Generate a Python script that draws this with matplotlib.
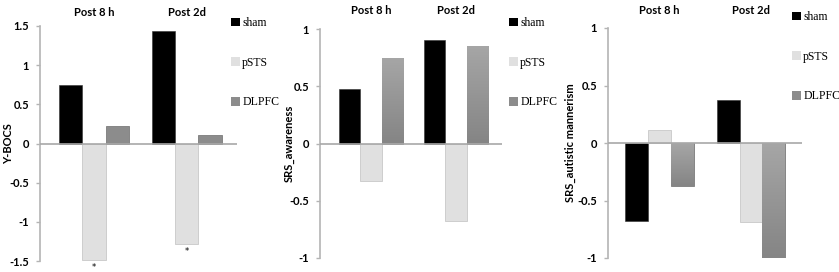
import numpy as np
import matplotlib
matplotlib.use("Agg")
import matplotlib.pyplot as plt
from matplotlib.patches import Patch
from matplotlib.transforms import blended_transform_factory
from matplotlib.colors import LinearSegmentedColormap

# ---------------- data ----------------
timepoints = ["Post 8 h", "Post 2d"]
groups = ["sham", "pSTS", "DLPFC"]

ybocs_sham = [0.75, 1.43]
ybocs_psts = [-1.49, -1.28]
ybocs_dlpfc = [0.22, 0.11]

aware_sham = [0.48, 0.90]
aware_psts = [-0.33, -0.68]
aware_dlpfc = [0.75, 0.85]

mann_sham = [-0.68, 0.37]
mann_psts = [0.11, -0.69]
mann_dlpfc = [-0.37, -1.00]

ylabels = ["Y-BOCS", "SRS_awareness", "SRS_autistic mannerism"]
yticks_p1 = [-1.5, -1, -0.5, 0, 0.5, 1, 1.5]
yticklabels_p1 = ["-1.5", "-1", "-0.5", "0", "0.5", "1", "1.5"]
yticks_p23 = [-1, -0.5, 0, 0.5, 1]
yticklabels_p23 = ["-1", "-0.5", "0", "0.5", "1"]
star_marked = [True, True]  # pSTS bars in Y-BOCS panel

# ---------------- style ----------------
W, H = 839, 272
fig = plt.figure(figsize=(W / 100, H / 100), dpi=100)

SANS = ["Lato", "DejaVu Sans"]
SERIF = ["Liberation Serif", "DejaVu Serif"]
C_SHAM = "#000000"
C_PSTS = "#e0e0e0"
C_DLP = "#8c8c8c"
AXC = "#b4b4b4"


def px_axes(x0, x1, ytop, ybot):
    return fig.add_axes([x0 / W, 1 - ybot / H, (x1 - x0) / W, (ybot - ytop) / H])


panels = [
    dict(box=(40, 237, 26, 261), ylim=(-1.5, 1.5), xlim=(-0.58, 1.54),
         data=(ybocs_sham, ybocs_psts, ybocs_dlpfc), ticks=(yticks_p1, yticklabels_p1),
         ylab_x=9, post_y=13, leg=(231, 17), grad=False),
    dict(box=(320, 502, 29, 258), ylim=(-1, 1), xlim=(-0.6, 1.54),
         data=(aware_sham, aware_psts, aware_dlpfc), ticks=(yticks_p23, yticklabels_p23),
         ylab_x=289, post_y=10, leg=(509, 17), grad=True),
    dict(box=(608, 802, 28, 258), ylim=(-1, 1), xlim=(-0.563, 1.557),
         data=(mann_sham, mann_psts, mann_dlpfc), ticks=(yticks_p23, yticklabels_p23),
         ylab_x=570, post_y=11, leg=(792, 11), grad=True),
]

grad_cmap = LinearSegmentedColormap.from_list("g", ["#858585", "#a6a6a6"])
width = 0.25
x = np.arange(len(timepoints))

for i, p in enumerate(panels):
    ax = px_axes(*p["box"])
    sham, psts, dlp = p["data"]
    b1 = ax.bar(x - width, sham, width, color=C_SHAM, edgecolor="#303030", linewidth=0.4, zorder=2)
    b2 = ax.bar(x, psts, width, color=C_PSTS, edgecolor="#c8c8c8", linewidth=0.6, zorder=2)
    b3 = ax.bar(x + width, dlp, width, color=C_DLP, edgecolor="#7c7c7c", linewidth=0.6, zorder=2)
    if p["grad"]:
        for bar in b3:
            bx, by = bar.get_x(), bar.get_y()
            bw, bh = bar.get_width(), bar.get_height()
            y0, y1 = sorted([by, by + bh])
            grad = np.linspace(0, 1, 64).reshape(-1, 1)
            im = ax.imshow(grad, extent=(bx, bx + bw, y0, y1), origin="lower",
                           cmap=grad_cmap, aspect="auto", zorder=2.5)
            im.set_clip_path(bar)
    ax.set_xlim(*p["xlim"])
    ax.set_ylim(*p["ylim"])
    ax.axhline(0, color="#a8a8a8", lw=1.2, zorder=3)
    for s in ["top", "right", "bottom"]:
        ax.spines[s].set_visible(False)
    ax.spines["left"].set_color(AXC)
    ax.spines["left"].set_linewidth(1.2)
    ax.set_xticks([])
    ax.set_yticks(p["ticks"][0])
    ax.set_yticklabels(p["ticks"][1], fontfamily=SANS, fontsize=8, fontweight="bold")
    ax.tick_params(axis="y", length=3, width=1, color=AXC, pad=5)
    ax.patch.set_alpha(0)

    fig.text(p["ylab_x"] / W, 1 - (p["box"][2] + p["box"][3]) / 2 / H, ylabels[i],
             rotation=90, ha="center", va="center", fontfamily=SANS,
             fontsize=8, fontweight="bold")

    tr = blended_transform_factory(ax.transData, fig.transFigure)
    for xi, lab in zip(x, timepoints):
        ax.text(xi, 1 - p["post_y"] / H, lab, transform=tr, ha="center", va="center",
                fontfamily=SANS, fontsize=8, fontweight="bold")

    if i == 0:
        for xi, v, m in zip(x, psts, star_marked):
            if m:
                ax.annotate("*", (xi, v), xytext=(0, -5.5), textcoords="offset points",
                            ha="center", va="center", fontsize=6, annotation_clip=False)

    handles = [Patch(facecolor=c, edgecolor="none") for c in (C_SHAM, C_PSTS, C_DLP)]
    fig.legend(handles, groups, loc="upper left",
               bbox_to_anchor=(p["leg"][0] / W, 1 - p["leg"][1] / H),
               frameon=False, borderpad=0, borderaxespad=0,
               handlelength=0.75, handleheight=0.75, handletextpad=0.2,
               labelspacing=2.35, prop=dict(family=SERIF, size=8.5))

fig.savefig("out.png", dpi=100)
